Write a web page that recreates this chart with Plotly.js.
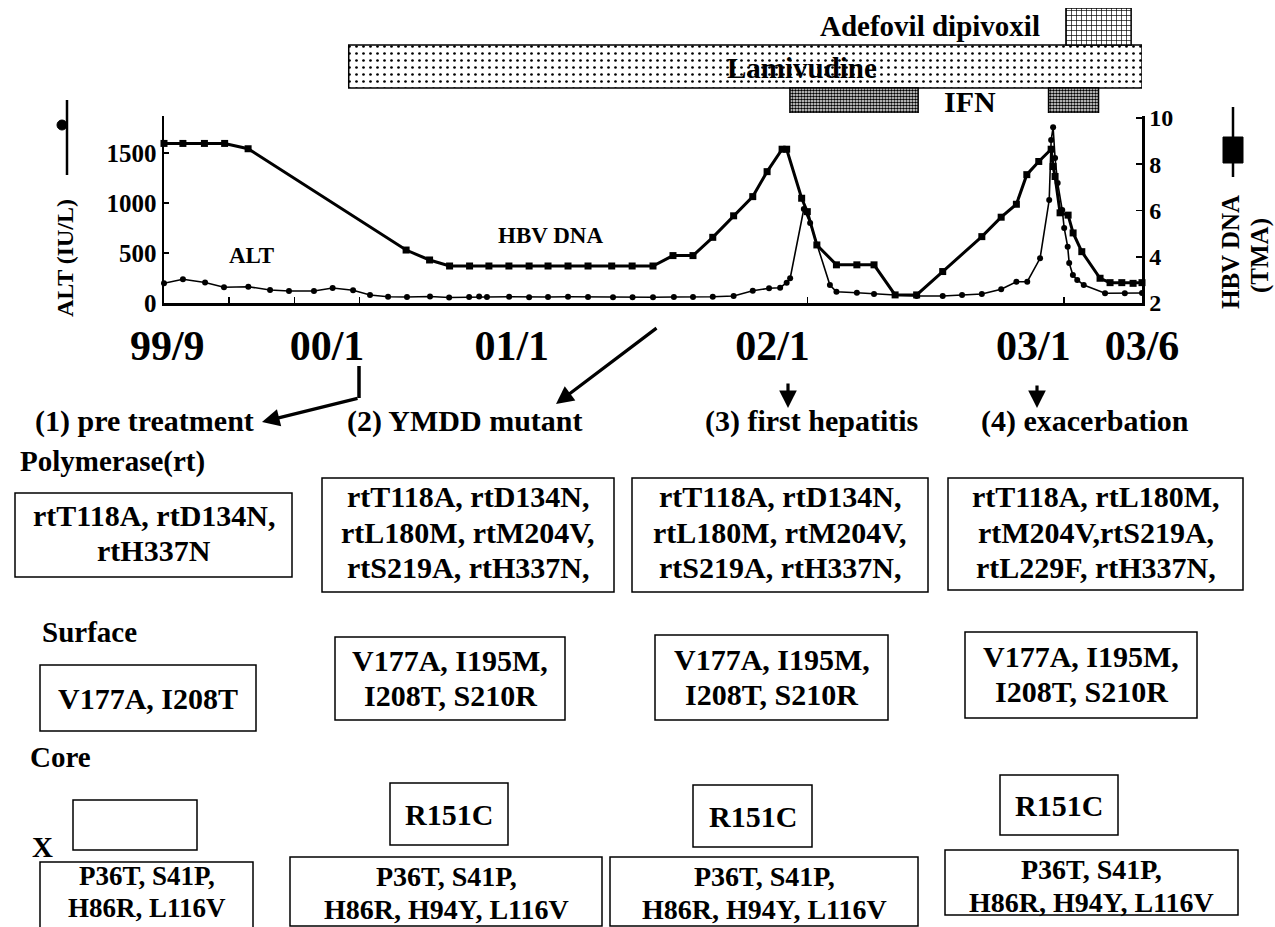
<!DOCTYPE html>
<html><head><meta charset="utf-8">
<script src="https://cdn.plot.ly/plotly-3.0.1.min.js"></script>
<style>html,body{margin:0;padding:0;background:#fff}#chart{width:1275px;height:927px}</style>
</head><body><div id="chart"></div>
<script>
// ---- data (x = position along the time axis, in months from 99/9) ----
const dnaMonths = [0,0.87,1.86,2.79,3.87,11.14,12.22,13.14,14.06,14.95,15.87,16.8,17.67,18.59,19.51,20.6,21.54,22.5,23.42,24.34,25.25,26.21,27.09,27.75,28.44,28.65,29.34,29.6,30.04,30.94,31.88,32.67,33.64,34.63,35.83,37.63,38.52,39.22,39.7,40.25,40.82,40.91,41.0,41.23,41.6,41.83,42.23,43.07,43.53,44.07,44.59,45.0];
const dnaValues = [8.9,8.9,8.9,8.9,8.67,4.29,3.86,3.6,3.6,3.6,3.6,3.6,3.6,3.6,3.6,3.6,3.6,3.6,4.05,4.05,4.84,5.77,6.6,7.68,8.65,8.65,6.53,5.95,4.51,3.65,3.65,3.65,2.35,2.35,3.36,4.87,5.71,6.27,7.55,8.12,8.65,7.9,7.47,5.9,5.8,5.03,4.22,3.07,2.88,2.88,2.85,2.88];
const altMonths = [0,0.87,1.89,2.76,3.88,4.88,5.75,6.9,7.76,8.7,9.48,10.31,11.18,12.24,13.12,14.04,14.5,14.86,15.88,16.8,17.67,18.59,19.51,20.66,21.56,22.5,23.46,24.34,25.25,26.21,27.09,27.84,28.35,28.65,28.81,29.44,29.73,30.64,30.94,31.88,32.67,33.64,34.63,35.83,36.72,37.63,38.52,39.22,39.72,40.31,40.73,40.82,40.91,41.0,41.12,41.33,41.42,41.58,41.65,41.82,42.02,42.32,43.3,44.21,45.0];
const altValues = [197,237,205,157,163,130,120,120,150,127,80,63,60,65,55,60,65,60,63,58,60,62,60,57,57,57,60,60,63,70,123,147,153,203,247,940,800,180,113,103,90,80,70,70,80,90,137,213,213,447,1030,1630,1757,1450,1200,930,750,563,400,280,230,180,97,97,100];
const dateTickLabels = ['99/9','00/1','01/1','02/1','03/1','03/6'];
const dateTickMonths = [0.15,7.5,16,28,40,45];
const minorTickMonths = [3,6,9,29.6,41.4];
const altTicks = [0,500,1000,1500];
const dnaTicks = [2,4,6,8,10];
const treatmentNames = ['Lamivudine','IFN','IFN','Adefovil dipivoxil'];
const treatmentStart = [8.5,28.8,40.7,41.5];
const treatmentEnd = [45.0,34.7,43.0,44.5];
const stageLabels = ['(1) pre treatment','(2) YMDD mutant','(3) first hepatitis','(4) exacerbation'];
const geneLabels = ['Polymerase(rt)','Surface','Core','X'];
const polymeraseText = [['rtT118A, rtD134N,','rtH337N'],['rtT118A, rtD134N,','rtL180M, rtM204V,','rtS219A, rtH337N,'],['rtT118A, rtD134N,','rtL180M, rtM204V,','rtS219A, rtH337N,'],['rtT118A, rtL180M,','rtM204V,rtS219A,','rtL229F, rtH337N,']];
const surfaceText = [['V177A, I208T'],['V177A, I195M,','I208T, S210R'],['V177A, I195M,','I208T, S210R'],['V177A, I195M,','I208T, S210R']];
const coreText = [[],['R151C'],['R151C'],['R151C']];
const xText = [['P36T, S41P,','H86R, L116V'],['P36T, S41P,','H86R, H94Y, L116V'],['P36T, S41P,','H86R, H94Y, L116V'],['P36T, S41P,','H86R, H94Y, L116V']];

// ---- layout helpers (pixel -> paper) ----
const L = 164, R = 1142, T = 8, B = 303;
const P = px => (px - L) / (R - L);
const Q = py => (B - py) / (B - T);
const FONT = '"Liberation Serif", "Times New Roman", serif';
const b = s => '<b>' + s + '</b>';

const traces = [];
traces.push({x: dnaMonths, y: dnaValues, yaxis: 'y2', type: 'scatter', mode: 'lines+markers',
  line: {color: '#000', width: 3}, marker: {symbol: 'square', size: 7, color: '#000'},
  cliponaxis: false, hoverinfo: 'skip', showlegend: false});
traces.push({x: altMonths, y: altValues, yaxis: 'y', type: 'scatter', mode: 'lines+markers',
  line: {color: '#000', width: 1.6}, marker: {symbol: 'circle', size: 6, color: '#000'},
  cliponaxis: false, hoverinfo: 'skip', showlegend: false});

// treatment bars (row position / height in the upper band, 1 unit = 1px)
const rowY = {'IFN': 12.5, 'Lamivudine': 46.5, 'Adefovil dipivoxil': 86.5};
const rowH = {'IFN': 25, 'Lamivudine': 43, 'Adefovil dipivoxil': 37};
const patterns = {
  'Lamivudine': {shape: '.', fgcolor: '#000', bgcolor: '#fff', size: 7, solidity: 0.12},
  'IFN': {shape: '.', fgcolor: '#000', bgcolor: '#fff', size: 3, solidity: 0.6},
  'Adefovil dipivoxil': {shape: '+', fgcolor: '#000', bgcolor: '#fff', size: 5, solidity: 0.25}
};
['Lamivudine', 'IFN', 'Adefovil dipivoxil'].forEach(name => {
  const idx = treatmentNames.map((n, i) => n === name ? i : -1).filter(i => i >= 0);
  traces.push({type: 'bar', orientation: 'h', xaxis: 'x', yaxis: 'y3',
    base: idx.map(i => treatmentStart[i]), x: idx.map(i => treatmentEnd[i] - treatmentStart[i]),
    y: idx.map(() => rowY[name]), width: idx.map(() => rowH[name]),
    marker: {color: '#fff', line: {color: '#000', width: 1.5}, pattern: patterns[name]},
    hoverinfo: 'skip', showlegend: false});
});

const ann = [];
const shapes = [];
function txt(s, cx, cy, size, opts) {
  ann.push(Object.assign({xref: 'paper', yref: 'paper', x: P(cx), y: Q(cy), text: b(s), showarrow: false,
    font: {family: FONT, size: size, color: '#000'}, xanchor: 'center', yanchor: 'middle', align: 'center'}, opts || {}));
}
function box(x0, x1, y0, y1) {
  shapes.push({type: 'rect', xref: 'paper', yref: 'paper', x0: P(x0), x1: P(x1), y0: Q(y1), y1: Q(y0),
    line: {color: '#000', width: 1.5}, fillcolor: 'rgba(0,0,0,0)'});
}
function line(x0, y0, x1, y1, w) {
  shapes.push({type: 'line', xref: 'paper', yref: 'paper', x0: P(x0), y0: Q(y0), x1: P(x1), y1: Q(y1),
    line: {color: '#000', width: w || 3}});
}
function arrow(tx, ty, hx, hy) {
  ann.push({xref: 'paper', yref: 'paper', x: P(hx), y: Q(hy), ax: tx - hx, ay: ty - hy, text: '',
    showarrow: true, arrowhead: 2, arrowsize: 1.1, arrowwidth: 3.2, arrowcolor: '#000'});
}

// treatment labels
txt('Adefovil dipivoxil', 930, 26, 29);
txt('Lamivudine', 802, 68, 29);
txt('IFN', 970, 102, 30);
// in-plot labels
txt('ALT', 251, 255, 23);
txt('HBV DNA', 550, 235, 23);
// axis titles
txt('ALT (IU/L)', 65, 258, 24, {textangle: -90});
txt('HBV DNA', 1230, 252, 25, {textangle: -90});
txt('(TMA)', 1260, 256, 25, {textangle: -90});
// legend glyphs
line(67, 100, 67, 175, 2.5);
shapes.push({type: 'circle', xref: 'paper', yref: 'paper', x0: P(57), x1: P(67), y0: Q(130), y1: Q(120), fillcolor: '#000', line: {color: '#000', width: 1}});
line(1233, 107, 1233, 177, 2.5);
shapes.push({type: 'rect', xref: 'paper', yref: 'paper', x0: P(1223), x1: P(1243), y0: Q(163), y1: Q(137), fillcolor: '#000', line: {color: '#000', width: 1}});

// arrows
line(359, 366, 359, 398, 3.5);
arrow(359, 398, 262, 422);
arrow(658, 327, 556, 404);
arrow(788, 382, 788, 408);
arrow(1037, 384, 1037, 408);

// stage labels
const stageX = [144, 465, 811, 1085];
stageLabels.forEach((s, i) => txt(s, stageX[i], 421, 30));
// gene labels
const geneY = [461, 632, 757, 847];
const geneX = [18, 40, 28, 30];
geneLabels.forEach((s, i) => txt(s, geneX[i], geneY[i], 29, {xanchor: 'left'}));

// mutation boxes: [x0, x1, y0, y1, text centre y, font size, line spacing]
const pBoxes = [[15,292,493,577,533,30,35],[322,614,478,592,532,30,35],[632,928,478,592,532,30,35],[948,1243,478,590,532,30,35]];
const sBoxes = [[40,256,665,731,698,30,35],[335,565,637,720,678,30,35],[655,888,635,720,677,30,35],[965,1197,632,718,674,30,35]];
const cBoxes = [[73,197,800,850,825,30,35],[390,508,783,845,814,30,35],[693,812,785,847,816,30,35],[1000,1118,775,835,805,30,35]];
const xBoxes = [[40,253,862,980,892,27,32],[290,602,857,926,893,28,33],[610,918,857,926,893,28,33],[945,1238,850,915,886,28,33]];
[[pBoxes, polymeraseText], [sBoxes, surfaceText], [cBoxes, coreText], [xBoxes, xText]].forEach(([bx, tx]) => {
  bx.forEach((r, i) => {
    box(r[0], r[1], r[2], r[3]);
    const lines = tx[i];
    lines.forEach((s, k) => txt(s, (r[0] + r[1]) / 2, r[4] + (k - (lines.length - 1) / 2) * r[6], r[5]));
  });
});

const layout = {
  width: 1275, height: 927, paper_bgcolor: '#fff', plot_bgcolor: 'rgba(0,0,0,0)',
  margin: {l: L, r: 1275 - R, t: T, b: 927 - B},
  font: {family: FONT, color: '#000'},
  showlegend: false, barmode: 'overlay',
  xaxis: {range: [0, 45], showline: true, linecolor: '#000', linewidth: 2.5, showgrid: false, zeroline: false,
    tickmode: 'array', tickvals: dateTickMonths, ticktext: dateTickLabels.map(b), ticks: '',
    tickfont: {family: FONT, size: 42, color: '#000'}, ticklabelstandoff: 4,
    minor: {tickmode: 'array', tickvals: minorTickMonths, ticks: 'inside', ticklen: 6, tickwidth: 1.5, tickcolor: '#000'},
    anchor: 'y', fixedrange: true},
  yaxis: {domain: [0, (B - 116) / (B - T)], range: [0, 1870], showline: true, linecolor: '#000', linewidth: 2.5,
    showgrid: false, zeroline: false, tickmode: 'array', tickvals: altTicks, ticktext: altTicks.map(v => b(v)),
    ticks: 'inside', ticklen: 5, tickwidth: 1.5, tickcolor: '#000',
    tickfont: {family: FONT, size: 25, color: '#000'}, anchor: 'x', fixedrange: true},
  yaxis2: {overlaying: 'y', side: 'right', range: [2, 10.086], showline: true, linecolor: '#000', linewidth: 2.5,
    showgrid: false, zeroline: false, tickmode: 'array', tickvals: dnaTicks, ticktext: dnaTicks.map(v => b(v)),
    ticks: 'inside', ticklen: 6, tickwidth: 1.5, tickcolor: '#000',
    tickfont: {family: FONT, size: 24, color: '#000'}, anchor: 'x', fixedrange: true},
  yaxis3: {domain: [(B - 113) / (B - T), 1], range: [0, 105], visible: false, anchor: 'x', fixedrange: true},
  annotations: ann, shapes: shapes
};
Plotly.newPlot('chart', traces, layout, {staticPlot: true, displayModeBar: false});
</script></body></html>
